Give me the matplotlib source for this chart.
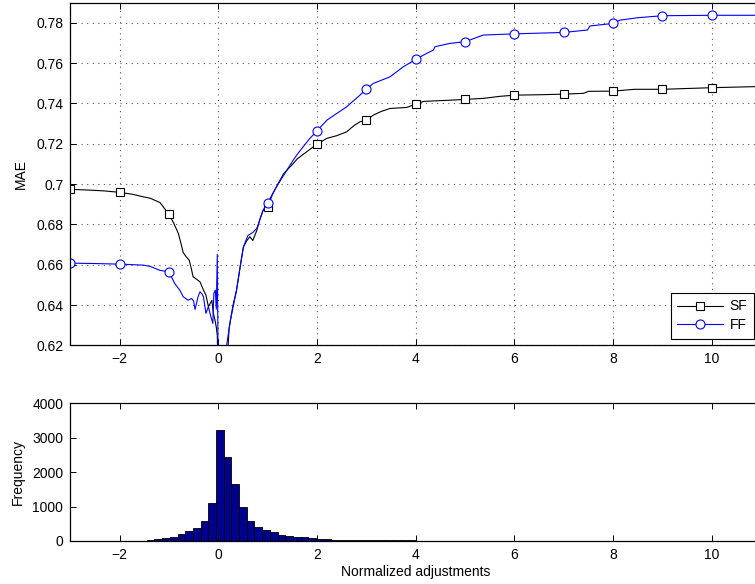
import numpy as np
import matplotlib
matplotlib.use("Agg")
import matplotlib.pyplot as plt

plt.rcParams['font.family'] = ['Liberation Sans', 'DejaVu Sans']
plt.rcParams['font.size'] = 10

# ---- MAE as a function of the normalized adjustment threshold ----
sf_x = [-3.00, -2.60, -2.30, -2.00, -1.75, -1.52, -1.38, -1.18, -1.00, -0.91,
        -0.81, -0.75, -0.71, -0.65, -0.59, -0.55, -0.51, -0.45, -0.37, -0.30,
        -0.25, -0.20, -0.16, -0.13, -0.10, -0.07, -0.04, -0.02, 0.00, 0.10,
        0.20, 0.22, 0.30, 0.37, 0.45, 0.51, 0.58, 0.64, 0.70, 0.78,
        0.85, 0.91, 1.00, 1.10, 1.18, 1.32, 1.39, 1.52, 1.60, 1.79,
        1.90, 2.00, 2.20, 2.40, 2.60, 2.75, 2.87, 3.00, 3.14, 3.30,
        3.48, 3.82, 4.00, 4.16, 4.50, 4.70, 5.00, 5.37, 5.70, 6.00,
        6.50, 7.00, 7.40, 7.50, 8.00, 8.43, 9.00, 10.00, 11.00]
sf_y = [0.6974, 0.6970, 0.6966, 0.6959, 0.6950, 0.6937, 0.6930, 0.6908, 0.6850, 0.6810,
        0.6756, 0.6700, 0.6660, 0.6640, 0.6623, 0.6585, 0.6540, 0.6530, 0.6515, 0.6474,
        0.6450, 0.6392, 0.6410, 0.6424, 0.6359, 0.6330, 0.6290, 0.6250, 0.6000, 0.5800,
        0.6200, 0.6288, 0.6400, 0.6474, 0.6600, 0.6689, 0.6720, 0.6739, 0.6720, 0.6770,
        0.6830, 0.6871, 0.6888, 0.6950, 0.6987, 0.7050, 0.7069, 0.7102, 0.7125, 0.7160,
        0.7180, 0.7197, 0.7227, 0.7240, 0.7259, 0.7290, 0.7309, 0.7317, 0.7342, 0.7360,
        0.7375, 0.7380, 0.7397, 0.7410, 0.7414, 0.7416, 0.7420, 0.7425, 0.7435, 0.7441,
        0.7443, 0.7446, 0.7450, 0.7460, 0.7461, 0.7470, 0.7470, 0.7478, 0.7484]

ff_x = [-3.00, -2.50, -2.00, -1.70, -1.52, -1.38, -1.18, -1.00, -0.88, -0.78,
        -0.71, -0.61, -0.54, -0.50, -0.47, -0.41, -0.37, -0.33, -0.30, -0.25,
        -0.20, -0.15, -0.11, -0.09, -0.06, -0.04, -0.02, 0.00, 0.08, 0.17,
        0.25, 0.37, 0.45, 0.51, 0.60, 0.70, 0.78, 0.91, 1.00, 1.18,
        1.39, 1.52, 1.59, 1.72, 1.85, 2.00, 2.20, 2.60, 2.87, 3.00,
        3.14, 3.48, 3.75, 4.00, 4.16, 4.36, 4.39, 4.70, 5.00, 5.37,
        6.00, 7.00, 7.48, 7.53, 8.00, 8.14, 8.50, 9.00, 10.00, 11.00]
ff_y = [0.6608, 0.6606, 0.6603, 0.6600, 0.6598, 0.6592, 0.6572, 0.6565, 0.6506, 0.6474,
        0.6441, 0.6424, 0.6433, 0.6420, 0.6378, 0.6441, 0.6466, 0.6455, 0.6441, 0.6359,
        0.6392, 0.6342, 0.6309, 0.6458, 0.6474, 0.6380, 0.6652, 0.6000, 0.5800, 0.6202,
        0.6330, 0.6474, 0.6600, 0.6689, 0.6745, 0.6760, 0.6780, 0.6871, 0.6907, 0.6987,
        0.7069, 0.7119, 0.7144, 0.7185, 0.7225, 0.7264, 0.7317, 0.7383, 0.7441, 0.7471,
        0.7499, 0.7532, 0.7582, 0.7618, 0.7640, 0.7665, 0.7681, 0.7698, 0.7706, 0.7739,
        0.7745, 0.7752, 0.7764, 0.7784, 0.7797, 0.7813, 0.7825, 0.7835, 0.7837, 0.7837]

marker_at = [-3, -2, -1, 1, 2, 3, 4, 5, 6, 7, 8, 9, 10]

# ---- histogram of normalized adjustments ----
bin_width = 0.156
first_center = -3.088
counts = [1, 1, 1, 2, 2, 3, 3, 4, 5, 8,
          12, 20, 48, 87, 126, 213, 290, 387, 571, 1094,
          3230, 2430, 1670, 985, 595, 405, 315, 255, 172, 143,
          108, 105, 78, 58, 48, 42, 38, 33, 30, 27,
          25, 22, 20, 18, 25, 16, 14, 12, 11, 10,
          9, 8, 7, 6, 6, 5, 5, 4, 4, 4,
          3, 3, 3, 3, 2, 2, 2, 2, 2, 2,
          2, 2, 1, 1, 1, 1, 1, 1, 1, 1,
          1, 1, 1, 1, 1, 1, 1, 1, 1, 1]

x_ticks = [-2, 0, 2, 4, 6, 8, 10]
mae_ticks = [0.62, 0.64, 0.66, 0.68, 0.70, 0.72, 0.74, 0.76, 0.78]
mae_labels = ['0.62', '0.64', '0.66', '0.68', '0.7', '0.72', '0.74', '0.76', '0.78']
freq_ticks = [0, 1000, 2000, 3000, 4000]

W, H = 755, 584
fig = plt.figure(figsize=(W / 100, H / 100), dpi=100)

def px_axes(left, top, right, bottom):
    return fig.add_axes([left / W, 1 - bottom / H, (right - left) / W, (bottom - top) / H])

ax1 = px_axes(70.2, 3.0, 761.2, 345.4)
ax2 = px_axes(70.2, 403.3, 761.2, 541.0)

for ax in (ax1, ax2):
    ax.set_xlim(-3, 11)
    ax.set_xticks(x_ticks)
    ax.set_xticklabels(['\u22122' if t == -2 else str(t) for t in x_ticks])
    ax.tick_params(direction='in', length=4.2, width=0.7, top=True, right=True,
                   labelsize=10, pad=5, colors='black')
    for s in ax.spines.values():
        s.set_linewidth(0.9)
        s.set_color('black')

# top panel
sf_marks = [i for i, v in enumerate(sf_x) if v in marker_at]
ff_marks = [i for i, v in enumerate(ff_x) if v in marker_at]
ax1.plot(sf_x, sf_y, color='black', lw=0.8, marker='s', markersize=5.5,
         markerfacecolor='white', markeredgecolor='black', markeredgewidth=0.8,
         markevery=sf_marks, label='SF')
ax1.plot(ff_x, ff_y, color='blue', lw=0.8, marker='o', markersize=6.5,
         markerfacecolor='white', markeredgecolor='blue', markeredgewidth=0.8,
         markevery=ff_marks, label='FF')
ax1.set_ylim(0.62, 0.7898)
ax1.set_yticks(mae_ticks)
ax1.set_yticklabels(mae_labels)
ax1.grid(True, linestyle=(0, (1, 4)), color='0.35', linewidth=0.8)
ax1.set_ylabel('MAE', fontsize=10, labelpad=6)
leg = ax1.legend(loc='lower right', bbox_to_anchor=(753.5 / W, 1 - 338.5 / H),
                 bbox_transform=fig.transFigure, fancybox=False, framealpha=1,
                 edgecolor='black', fontsize=10, handlelength=3.3,
                 borderpad=0.45, labelspacing=0.35, handletextpad=0.45,
                 borderaxespad=0)
leg.get_frame().set_linewidth(0.8)

# bottom panel
centers = first_center + bin_width * np.arange(len(counts))
ax2.bar(centers, counts, width=bin_width, color=(0, 0, 0.5625),
        edgecolor='black', linewidth=0.6)
ax2.set_ylim(0, 4000)
ax2.set_yticks(freq_ticks)
ax2.set_ylabel('Frequency', fontsize=10, labelpad=5)
ax2.set_xlabel('Normalized adjustments', fontsize=10, labelpad=2)

fig.savefig('out.png', dpi=100)
